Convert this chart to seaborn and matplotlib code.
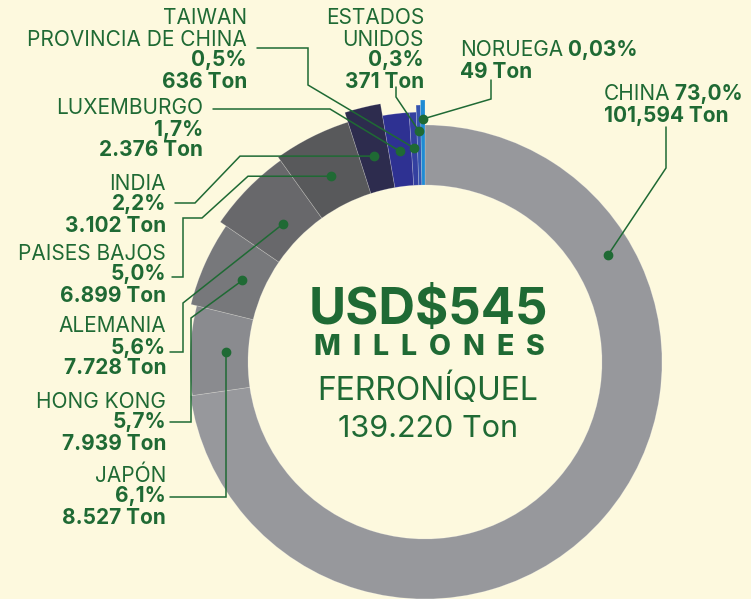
"""
Ferroniquel exports by destination - donut chart with leader-line labels
"""

import numpy as np
import matplotlib
matplotlib.use('Agg')
import matplotlib.pyplot as plt
from matplotlib.patches import Wedge
import seaborn as sns

# ============================================
# Data
# ============================================
countries = ['CHINA', 'JAPÓN', 'HONG KONG', 'ALEMANIA', 'PAISES BAJOS', 'INDIA',
             'LUXEMBURGO', 'TAIWAN\nPROVINCIA DE CHINA', 'ESTADOS\nUNIDOS', 'NORUEGA']
tons = [101594, 8527, 7939, 7728, 6899, 3102, 2376, 636, 371, 49]
pct_labels = ['73,0%', '6,1%', '5,7%', '5,6%', '5,0%', '2,2%', '1,7%', '0,5%', '0,3%', '0,03%']
ton_labels = ['101,594 Ton', '8.527 Ton', '7.939 Ton', '7.728 Ton', '6.899 Ton',
              '3.102 Ton', '2.376 Ton', '636 Ton', '371 Ton', '49 Ton']
total_usd = 'USD$545'
total_unit = 'MILLONES'
product = 'FERRONÍQUEL'
total_tons = '139.220 Ton'

# ============================================
# Style
# ============================================
sns.set_style('white')
plt.rcParams['font.family'] = ['Inter', 'DejaVu Sans']

BG = '#fdf9de'
GREEN = '#1f6a34'
colors = ['#97989c', '#8a8b8f', '#77787b', '#68686b', '#58595b', '#2d2c4e',
          '#2e3192', '#3440a0', '#3553ae', '#1f8bd3']
outer_r = [237, 235, 241, 248, 252, 262, 250, 250, 257, 262]
inner_r = 177
dot_r = [212, 199, 200, 198, 208, 212, 212, 214, 231, 243]
dot_frac = [0.772, 0.5, 0.5, 0.5, 0.5, 0.5, 0.5, 0.5, 0.5, 0.5]
MIN_DEG = 1.0          # smallest slice still drawn visibly
W, H = 751, 599
CX, CY = 425, 362      # donut centre in pixel coords (y down)
FS = 15.0              # label font size (pt)
PITCH = 21             # label line pitch (px)
CAP = 14.5             # cap height (px)

# label layout: anchor x, top y, alignment, leader path (None -> take dot coord)
layout = {
    'CHINA': dict(x=604, y=86, ha='left', path=[(666, 127), (666, 168)]),
    'JAPÓN': dict(x=166, y=467, ha='right', path=[(170, 497), (None, 497)]),
    'HONG KONG': dict(x=166, y=393, ha='right', path=[(170, 422), (191, 422), (191, 318)]),
    'ALEMANIA': dict(x=166, y=318, ha='right', path=[(170, 352), (183, 352), (183, 303)]),
    'PAISES BAJOS': dict(x=166, y=245, ha='right',
                         path=[(172, 277), (183, 277), (183, 218), (202, 218), (248, None)]),
    'INDIA': dict(x=166, y=175, ha='right', path=[(175, 203), (195, 203), (240, None)]),
    'LUXEMBURGO': dict(x=203, y=100, ha='right', path=[(213, 109), (330, 109)]),
    'TAIWAN\nPROVINCIA DE CHINA': dict(x=247, y=10, ha='right', path=[(257, 48), (308, 48), (308, 85)]),
    'ESTADOS\nUNIDOS': dict(x=424, y=10, ha='right', path=[(396, 87), (396, 97)]),
    'NORUEGA': dict(x=460, y=42, ha='left', path=[(491, 80), (491, 99)]),
}
inline_pct = {'CHINA', 'NORUEGA'}


def P(x, y):
    """pixel (y down) -> data (y up)"""
    return x, H - y


fig = plt.figure(figsize=(W / 100, H / 100), dpi=100, facecolor=BG)
ax = fig.add_axes([0, 0, 1, 1])
ax.set_facecolor(BG)
ax.set_xlim(0, W)
ax.set_ylim(0, H)
ax.set_aspect('equal')
ax.axis('off')

# ============================================
# Donut slices: the rest stacked counter-clockwise from 12 o'clock
# ============================================
tons_arr = np.array(tons, dtype=float)
deg = 360 * tons_arr / tons_arr.sum()
deg = np.maximum(deg, MIN_DEG)

theta = {}
start = 90.0
for i in range(len(countries) - 1, 0, -1):
    theta[i] = (start, start + deg[i])
    start += deg[i]
theta[0] = (start, 450.0)

centre = P(CX, CY)
dots = {}
for i, name in enumerate(countries):
    t1, t2 = theta[i]
    ax.add_patch(Wedge(centre, outer_r[i], t1, t2, width=outer_r[i] - inner_r,
                       facecolor=colors[i], edgecolor=(1, 1, 1, 0.25), linewidth=0.5))
    a = np.deg2rad(t1 + dot_frac[i] * (t2 - t1))
    dots[name] = (centre[0] + dot_r[i] * np.cos(a), centre[1] + dot_r[i] * np.sin(a))

fig.canvas.draw()
renderer = fig.canvas.get_renderer()


def text_width(t):
    bb = t.get_window_extent(renderer=renderer)
    return bb.width


# ============================================
# Labels + leader lines
# ============================================
for i, name in enumerate(countries):
    lay = layout[name]
    lines = []
    if name in inline_pct:
        lines.append([(name, 'normal'), (' ' + pct_labels[i], 'bold')])
    else:
        for part in name.split('\n'):
            lines.append([(part, 'normal')])
        lines.append([(pct_labels[i], 'bold')])
    lines.append([(ton_labels[i], 'bold')])

    for k, segs in enumerate(lines):
        yb = lay['y'] + CAP + k * PITCH
        x = lay['x']
        if lay['ha'] == 'left':
            for txt, wt in segs:
                t = ax.text(x, H - yb, txt, ha='left', va='baseline', fontsize=FS,
                            fontweight=wt, color=GREEN)
                x += text_width(t)
        else:
            for txt, wt in reversed(segs):
                t = ax.text(x, H - yb, txt, ha='right', va='baseline', fontsize=FS,
                            fontweight=wt, color=GREEN)
                x -= text_width(t)

    dx, dy = dots[name]
    pts = []
    for px, py in lay['path']:
        xx = dx if px is None else px
        yy = dy if py is None else H - py
        pts.append((xx, yy))
    pts.append((dx, dy))
    xs, ys = zip(*pts)
    ax.plot(xs, ys, color=GREEN, linewidth=1.1, solid_joinstyle='miter', zorder=5)
    ax.plot(dx, dy, 'o', color=GREEN, markersize=6, zorder=6)

# ============================================
# Centre text
# ============================================
TX = 428
ax.text(TX, H - 324, total_usd, ha='center', va='baseline', fontsize=36.5,
        fontweight='bold', color=GREEN)

# letter-spaced MILLONES
span_l, span_r = 313, 545
chars = [ax.text(0, H - 355, c, ha='left', va='baseline', fontsize=20.5,
                 fontweight='heavy', color=GREEN) for c in total_unit]
widths = [text_width(c) for c in chars]
gap = (span_r - span_l - sum(widths)) / (len(chars) - 1)
x = span_l
for c, w in zip(chars, widths):
    c.set_x(x)
    x += w + gap

ax.text(TX, H - 400, product, ha='center', va='baseline', fontsize=23,
        fontweight='normal', color=GREEN)
ax.text(TX, H - 437, total_tons, ha='center', va='baseline', fontsize=22,
        fontweight='normal', color=GREEN)

fig.savefig('out.png', dpi=100, facecolor=BG)
